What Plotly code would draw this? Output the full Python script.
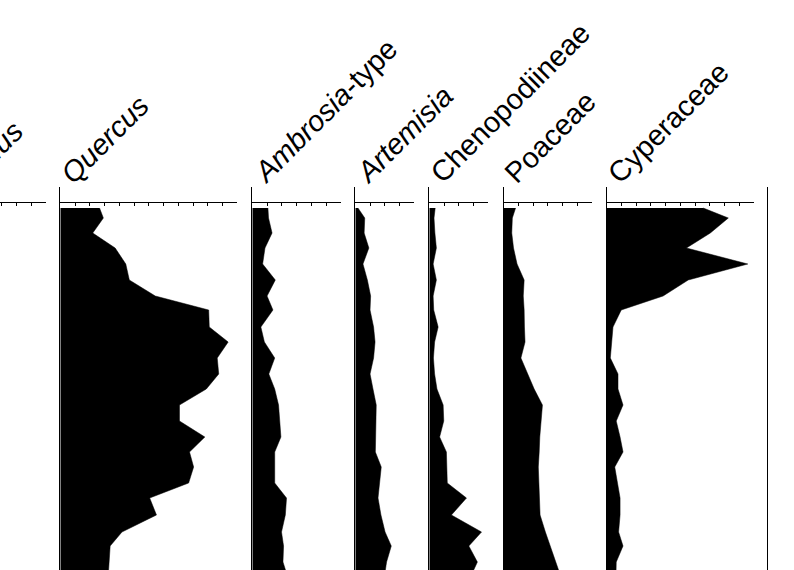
import plotly.graph_objects as go

# ---------------- data ----------------
depth_cm = [0, 10, 25, 40, 56, 72, 88, 102, 119, 134, 150, 166, 181, 197,
            213, 229, 244, 259, 275, 290, 307, 324, 338, 354, 370]

quercus = [13.3, 14.6, 11.0, 18.6, 22.2, 23.4, 32.2, 50.3, 50.5, 56.9, 53.2, 53.7, 49.5, 40.4,
           40.4, 49.0, 43.8, 45.2, 43.5, 30.3, 32.6, 20.9, 16.9, 16.4, 16.2]
ambrosia = [5.3, 5.5, 6.7, 4.3, 3.5, 7.8, 5.0, 7.0, 2.9, 4.1, 7.6, 5.6, 7.6, 8.9,
            9.3, 9.7, 7.6, 7.6, 7.6, 11.6, 11.2, 9.9, 10.6, 10.4, 12.1]
artemisia = [0.9, 3.2, 3.0, 4.6, 2.6, 4.1, 5.2, 5.0, 6.2, 6.7, 6.2, 5.0, 6.0, 7.1,
             7.0, 6.9, 6.8, 8.8, 8.2, 7.7, 8.7, 10.1, 12.2, 10.6, 9.8]
chenopodiineae = [2.0, 1.6, 1.9, 2.4, 1.3, 2.4, 1.3, 1.5, 3.0, 1.8, 1.4, 1.8, 2.6, 4.7,
                  4.9, 3.5, 5.8, 5.9, 6.1, 12.6, 7.5, 17.7, 13.4, 16.3, 13.8]
poaceae = [4.1, 3.0, 2.8, 3.4, 4.6, 7.0, 6.7, 7.0, 7.1, 7.3, 5.9, 8.2, 10.4, 13.2,
           12.7, 12.3, 12.1, 11.8, 12.0, 12.1, 12.4, 14.2, 15.9, 17.6, 19.6]
cyperaceae = [32.8, 41.3, 35.2, 27.1, 47.9, 27.7, 19.2, 5.0, 2.2, 1.8, 1.3, 3.9, 3.9, 5.6,
              3.3, 4.6, 5.6, 2.8, 3.6, 4.6, 4.6, 4.1, 5.6, 3.3, 3.2]

taxa_labels = ["<i>Pinus</i>", "<i>Quercus</i>", "<i>Ambrosia</i>-type", "<i>Artemisia</i>",
               "Chenopodiineae", "Poaceae", "Cyperaceae"]
taxa_values = [None, quercus, ambrosia, artemisia, chenopodiineae, poaceae, cyperaceae]
axis_max_pct = [25, 60, 30, 20, 20, 30, 50]

# ---------------- layout geometry (pixels) ----------------
W, H = 794, 570
PX_PER_PCT = 2.95
panel_left_px = [-27.8, 60.3, 252.3, 355.3, 429.3, 503.5, 606.5]
label_dx_px = [-20, -8, -8, -8, -8, -8, -8]
extra_line_px = 768.3
plot_top_px = 187
axis_top_px = 202
y_range = [362, -21]

fig = go.Figure()
layout = dict(
    width=W, height=H,
    margin=dict(l=0, r=0, t=0, b=0, pad=0, autoexpand=False),
    paper_bgcolor="white", plot_bgcolor="white",
    showlegend=False,
    annotations=[],
)

ydom = [0, 1 - plot_top_px / H]
for i, (lab, vals, wmax, left, ldx) in enumerate(
        zip(taxa_labels, taxa_values, axis_max_pct, panel_left_px, label_dx_px)):
    k = i + 1
    right = left + wmax * PX_PER_PCT
    vis_left = max(left, 0)
    lo = (vis_left - left) / PX_PER_PCT
    xa = dict(
        domain=[vis_left / W, right / W], range=[lo, wmax],
        side="top", anchor="free", position=1 - axis_top_px / H,
        showline=True, linecolor="black", linewidth=1,
        ticks="inside", ticklen=3, tickwidth=1, tickcolor="black",
        tick0=0, dtick=5, showticklabels=False,
        showgrid=False, zeroline=False, fixedrange=True,
    )
    ya = dict(
        domain=ydom, range=y_range, anchor=f"x{k}" if k > 1 else "x",
        showline=(left >= 0), linecolor="black", linewidth=1,
        ticks="", showticklabels=False, showgrid=False, zeroline=False,
        fixedrange=True,
    )
    layout["xaxis" if k == 1 else f"xaxis{k}"] = xa
    layout["yaxis" if k == 1 else f"yaxis{k}"] = ya
    xref = "x" if k == 1 else f"x{k}"
    yref = "y" if k == 1 else f"y{k}"
    if vals is not None:
        fig.add_trace(go.Scatter(
            x=vals, y=depth_cm, mode="lines", fill="tozerox",
            fillcolor="black", line=dict(color="black", width=0.5),
            xaxis=xref, yaxis=yref, hoverinfo="skip",
        ))
    else:
        fig.add_trace(go.Scatter(x=[], y=[], mode="lines", xaxis=xref, yaxis=yref,
                                 hoverinfo="skip"))
    layout["annotations"].append(dict(
        text=lab, xref="paper", yref="paper",
        x=(left + ldx) / W, y=1 - 192 / H,
        xanchor="left", yanchor="bottom", showarrow=False, textangle=-45,
        font=dict(family="Liberation Sans, Arial, sans-serif", size=29, color="black"),
    ))

# extra vertical line (next, empty panel)
k = len(taxa_labels) + 1
layout[f"xaxis{k}"] = dict(domain=[extra_line_px / W, 1], range=[0, 10], visible=False,
                           anchor=f"y{k}")
layout[f"yaxis{k}"] = dict(domain=ydom, range=y_range, anchor=f"x{k}",
                           showline=True, linecolor="black", linewidth=1,
                           ticks="", showticklabels=False, showgrid=False, zeroline=False)
fig.add_trace(go.Scatter(x=[], y=[], mode="lines", xaxis=f"x{k}", yaxis=f"y{k}",
                         hoverinfo="skip"))

fig.update_layout(**layout)
fig.write_html("out.html", config={"displayModeBar": False, "staticPlot": True},
               post_script="document.body.style.margin='0';")
